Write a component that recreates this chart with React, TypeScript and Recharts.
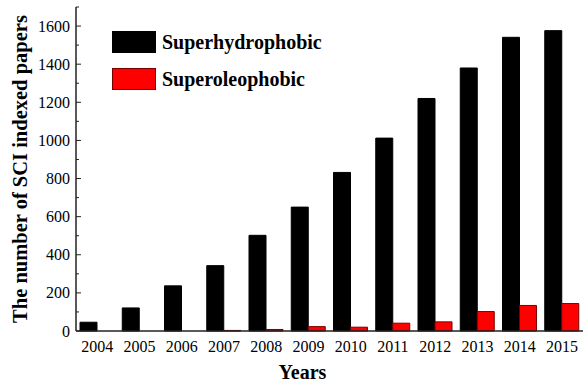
import React from 'react';
import { BarChart, Bar, XAxis, YAxis, Legend } from 'recharts';

const years = ['2004', '2005', '2006', '2007', '2008', '2009', '2010', '2011', '2012', '2013', '2014', '2015'];
const superhydrophobic = [46, 121, 237, 343, 502, 650, 832, 1012, 1220, 1380, 1541, 1576];
const superoleophobic = [0, 0, 0, 3, 8, 23, 20, 41, 48, 102, 134, 144];
const yTicks = [0, 100, 200, 300, 400, 500, 600, 700, 800, 900, 1000, 1100, 1200, 1300, 1400, 1500, 1600, 1700];

const chartData = years.map((year, i) => ({
  year,
  hydro: superhydrophobic[i],
  oleo: superoleophobic[i],
}));

const FONT = "'Liberation Serif', 'Times New Roman', serif";
const AXIS_X = 76; // left margin (0) + y axis width
const AXIS_COLOR = '#222';

// y ticks: inward tick marks, labels only every 200
const YTick = (props: any) => {
  const { y, payload } = props;
  const v = payload.value as number;
  const major = v % 200 === 0;
  return (
    <g>
      <line x1={AXIS_X} x2={AXIS_X + (major ? 5 : 3)} y1={y} y2={y} stroke={AXIS_COLOR} strokeWidth={1} />
      {major && v <= 1600 && (
        <text x={AXIS_X - 6} y={y} textAnchor="end" dominantBaseline="central" fontSize={16} fontFamily={FONT} fill="#000">
          {v}
        </text>
      )}
    </g>
  );
};

const renderLegend = (props: any) => {
  const { payload } = props;
  return (
    <div style={{ fontFamily: FONT, fontWeight: 'bold', fontSize: 20 }}>
      {(payload || []).map((entry: any, i: number) => (
        <div key={i} style={{ display: 'flex', alignItems: 'center', height: 22, marginBottom: i === 0 ? 15 : 0 }}>
          <div
            style={{
              width: 44,
              height: 22,
              boxSizing: 'border-box',
              background: entry.color,
              border: `1px solid ${i === 0 ? '#000' : '#7a0000'}`,
              marginRight: 6,
            }}
          />
          <span style={{ color: '#000' }}>{entry.value}</span>
        </div>
      ))}
    </div>
  );
};

export default function App() {
  return (
    <div style={{ position: 'absolute', left: 0, top: 0, width: 585, height: 383, background: '#fff' }}>
      <BarChart
        width={585}
        height={383}
        data={chartData}
        margin={{ top: 7, right: 2, bottom: 0, left: 0 }}
        barCategoryGap={4}
        barGap={0}
      >
        <XAxis
          dataKey="year"
          height={52}
          axisLine={{ stroke: AXIS_COLOR, strokeWidth: 1.5 }}
          tickLine={false}
          tick={{ fontSize: 16, fontFamily: FONT, fill: '#000' }}
          tickMargin={4}
          interval={0}
          label={{
            value: 'Years',
            position: 'insideBottom',
            offset: 4,
            dx: -27,
            style: { fontSize: 20, fontWeight: 'bold', fontFamily: FONT, fill: '#000' },
          }}
        />
        <XAxis
          xAxisId="top"
          dataKey="year"
          orientation="top"
          height={0}
          tick={false}
          tickLine={false}
          axisLine={{ stroke: AXIS_COLOR, strokeWidth: 1.5 }}
        />
        <YAxis
          width={AXIS_X}
          domain={[0, 1700]}
          ticks={yTicks}
          interval={0}
          axisLine={{ stroke: AXIS_COLOR, strokeWidth: 1.5 }}
          tickLine={false}
          tick={<YTick />}
          label={{
            value: 'The number of SCI indexed papers',
            angle: -90,
            position: 'insideLeft',
            offset: 20,
            style: { textAnchor: 'middle', fontSize: 20.5, fontWeight: 'bold', fontFamily: FONT, fill: '#000' },
          }}
        />
        <YAxis
          yAxisId="right"
          orientation="right"
          width={0}
          domain={[0, 1700]}
          tick={false}
          tickLine={false}
          axisLine={{ stroke: '#555', strokeWidth: 1 }}
        />
        <Legend
          layout="horizontal"
          verticalAlign="middle"
          align="center"
          content={renderLegend}
          wrapperStyle={{ top: 31, left: 112, width: 260, height: 60 }}
        />
        <Bar dataKey="hydro" name="Superhydrophobic" fill="#000" stroke="#000" strokeWidth={1} isAnimationActive={false} />
        <Bar dataKey="oleo" name="Superoleophobic" fill="#ff0000" stroke="#7a0000" strokeWidth={1} isAnimationActive={false} />
      </BarChart>
    </div>
  );
}
